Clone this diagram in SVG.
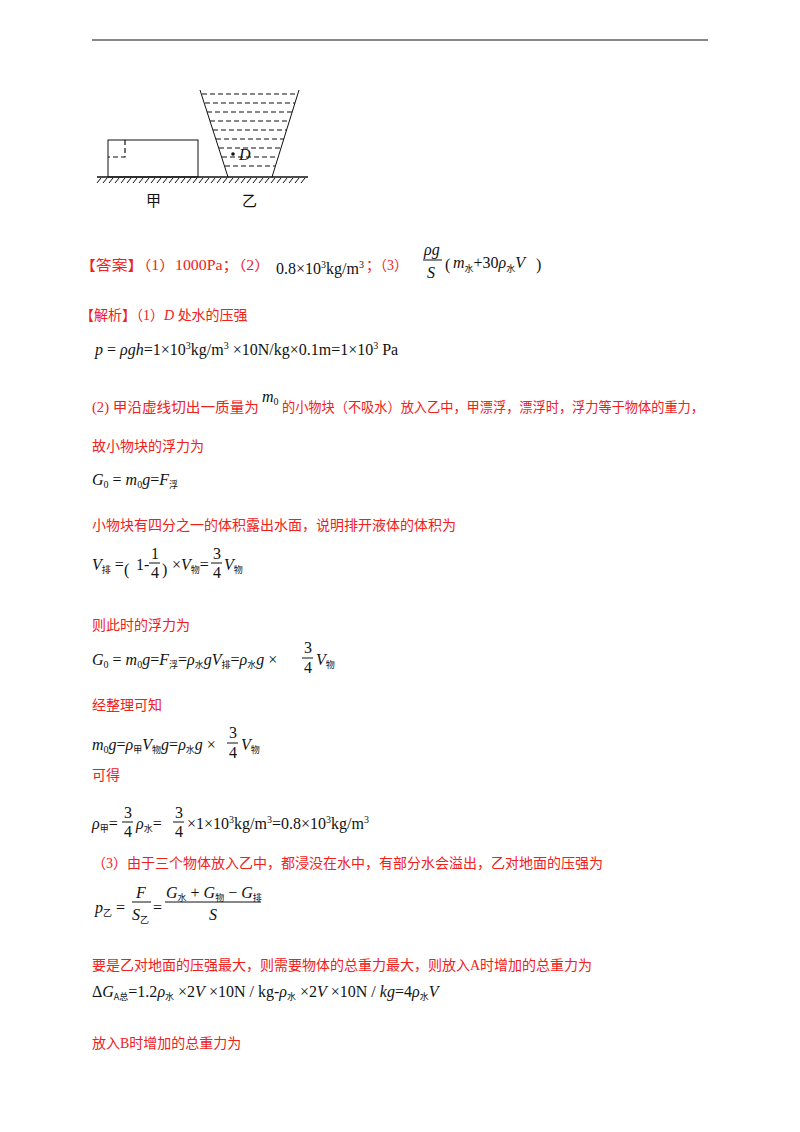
<svg xmlns="http://www.w3.org/2000/svg" width="800" height="1132" viewBox="0 0 800 1132">
<style>
.r{font-family:"Liberation Serif","Noto Sans CJK SC",serif;font-size:14px;fill:#f0201a}
.m{font-family:"Liberation Serif","Noto Sans CJK SC",serif;font-size:16px;fill:#111}
.i{font-style:italic}
.s{font-size:10px}
.c{font-family:"Noto Sans CJK SC",sans-serif;font-size:9px;fill:#111}
.l{stroke:#111;stroke-width:1;fill:none}
.d{stroke:#111;stroke-width:1.2;stroke-dasharray:5,3;fill:none}
</style>
<rect width="800" height="1132" fill="#fff"/>
<line x1="92" y1="40" x2="708" y2="40" stroke="#111" stroke-width="1.2"/>
<g id="figure">
<line x1="97" y1="177" x2="308" y2="177" stroke="#111" stroke-width="1.5"/>
<path d="M101 178l-4 5M107 178l-4 5M113 178l-4 5M119 178l-4 5M125 178l-4 5M131 178l-4 5M137 178l-4 5M143 178l-4 5M149 178l-4 5M155 178l-4 5M161 178l-4 5M167 178l-4 5M173 178l-4 5M179 178l-4 5M185 178l-4 5M191 178l-4 5M197 178l-4 5M203 178l-4 5M209 178l-4 5M215 178l-4 5M221 178l-4 5M227 178l-4 5M233 178l-4 5M239 178l-4 5M245 178l-4 5M251 178l-4 5M257 178l-4 5M263 178l-4 5M269 178l-4 5M275 178l-4 5M281 178l-4 5M287 178l-4 5M293 178l-4 5M299 178l-4 5M305 178l-4 5" class="l"/>
<rect x="108" y="140" width="90" height="37" class="l"/>
<path d="M125 140v17h-17" class="d"/>
<path d="M200 90L228 177M299 90L272 177" class="l"/>
<path d="M202 94h95M205 103h90M207 112h85M210 121h80M213 130h74M216 139h68M219 148h62M222 157h56M225 166h50" class="d"/>
<circle cx="233" cy="154" r="1.8" fill="#111"/>
<text x="239" y="160" class="m i" font-size="15">D</text>
<text x="146" y="206" font-family="Noto Sans CJK SC,sans-serif" font-size="15" fill="#111">甲</text>
<text x="242" y="206" font-family="Noto Sans CJK SC,sans-serif" font-size="15" fill="#111">乙</text>
</g>
<g id="text">
<text x="80" y="270" class="r" textLength="190" lengthAdjust="spacingAndGlyphs">【答案】（1）1000Pa；（2）</text>
<text x="276" y="274" class="m" font-size="14">0.8×10<tspan class="s" dy="-6">3</tspan><tspan dy="6">kg/m</tspan><tspan class="s" dy="-6">3</tspan></text>
<text x="366" y="270" class="r">；（3）</text>
<text x="424" y="255" class="m i">ρg</text>
<line x1="423" y1="260" x2="442" y2="260" stroke="#111"/>
<text x="427" y="278" class="m i">S</text>
<text x="445" y="270" class="m" font-size="20">(</text>
<text x="453" y="268" class="m"><tspan class="i">m</tspan><tspan class="c" dy="4">水</tspan><tspan dy="-4">+30</tspan><tspan class="i">ρ</tspan><tspan class="c" dy="4">水</tspan><tspan dy="-4" class="i">V</tspan></text>
<text x="536" y="270" class="m" font-size="20">)</text>

<text x="80" y="320" class="r">【解析】（1）<tspan font-style="italic">D</tspan> 处水的压强</text>
<text x="95" y="355" class="m"><tspan class="i">p</tspan> = <tspan class="i">ρgh</tspan>=1×10<tspan class="s" dy="-6">3</tspan><tspan dy="6">kg/m</tspan><tspan class="s" dy="-6">3</tspan><tspan dy="6"> ×10N/kg×0.1m=1×10</tspan><tspan class="s" dy="-6">3</tspan><tspan dy="6"> Pa</tspan></text>

<text x="92" y="412" class="r" textLength="167" lengthAdjust="spacingAndGlyphs">(2) 甲沿虚线切出一质量为</text>
<text x="262" y="402" class="m i">m<tspan class="s" font-style="normal" dy="3">0</tspan></text>
<text x="282" y="412" class="r" textLength="422" lengthAdjust="spacingAndGlyphs">的小物块（不吸水）放入乙中，甲漂浮，漂浮时，浮力等于物体的重力，</text>
<text x="92" y="451" class="r">故小物块的浮力为</text>
<text x="92" y="485" class="m" font-size="14"><tspan class="i">G</tspan><tspan class="s" dy="3">0</tspan><tspan dy="-3"> = </tspan><tspan class="i">m</tspan><tspan class="s" dy="3">0</tspan><tspan dy="-3" class="i">g</tspan>=<tspan class="i">F</tspan><tspan class="c" dy="3">浮</tspan></text>

<text x="92" y="530" class="r">小物块有四分之一的体积露出水面，说明排开液体的体积为</text>
<text x="92" y="570" class="m" font-size="14"><tspan class="i">V</tspan><tspan class="c" dy="3">排</tspan><tspan dy="-3"> =</tspan></text>
<text x="124" y="575" class="m" font-size="28">(</text>
<text x="136" y="570" class="m" font-size="14">1-</text>
<text x="151" y="559" class="m" font-size="14">1</text>
<line x1="149" y1="563" x2="160" y2="563" stroke="#111"/>
<text x="151" y="578" class="m" font-size="14">4</text>
<text x="162" y="575" class="m" font-size="28">)</text>
<text x="172" y="570" class="m" font-size="14">×<tspan class="i">V</tspan><tspan class="c" dy="3">物</tspan><tspan dy="-3">=</tspan></text>
<text x="213" y="559" class="m" font-size="14">3</text>
<line x1="211" y1="563" x2="222" y2="563" stroke="#111"/>
<text x="213" y="578" class="m" font-size="14">4</text>
<text x="224" y="570" class="m i" font-size="14">V<tspan class="c" font-style="normal" dy="3">物</tspan></text>

<text x="92" y="630" class="r">则此时的浮力为</text>
<text x="92" y="665" class="m" font-size="14"><tspan class="i">G</tspan><tspan class="s" dy="3">0</tspan><tspan dy="-3"> = </tspan><tspan class="i">m</tspan><tspan class="s" dy="3">0</tspan><tspan dy="-3" class="i">g</tspan>=<tspan class="i">F</tspan><tspan class="c" dy="3">浮</tspan><tspan dy="-3">=</tspan><tspan class="i">ρ</tspan><tspan class="c" dy="3">水</tspan><tspan dy="-3" class="i">gV</tspan><tspan class="c" dy="3">排</tspan><tspan dy="-3">=</tspan><tspan class="i">ρ</tspan><tspan class="c" dy="3">水</tspan><tspan dy="-3" class="i">g</tspan> ×</text>
<text x="304" y="653" class="m" font-size="14">3</text>
<line x1="302" y1="658" x2="313" y2="658" stroke="#111"/>
<text x="304" y="673" class="m" font-size="14">4</text>
<text x="316" y="665" class="m i" font-size="14">V<tspan class="c" font-style="normal" dy="3">物</tspan></text>

<text x="92" y="710" class="r">经整理可知</text>
<text x="92" y="750" class="m" font-size="14"><tspan class="i">m</tspan><tspan class="s" dy="3">0</tspan><tspan dy="-3" class="i">g</tspan>=<tspan class="i">ρ</tspan><tspan class="c" dy="3">甲</tspan><tspan dy="-3" class="i">V</tspan><tspan class="c" dy="3">物</tspan><tspan dy="-3" class="i">g</tspan>=<tspan class="i">ρ</tspan><tspan class="c" dy="3">水</tspan><tspan dy="-3" class="i">g</tspan> ×</text>
<text x="229" y="738" class="m" font-size="14">3</text>
<line x1="227" y1="743" x2="238" y2="743" stroke="#111"/>
<text x="229" y="758" class="m" font-size="14">4</text>
<text x="241" y="750" class="m i" font-size="14">V<tspan class="c" font-style="normal" dy="3">物</tspan></text>

<text x="92" y="780" class="r">可得</text>
<text x="92" y="829" class="m" font-size="14"><tspan class="i">ρ</tspan><tspan class="c" dy="3">甲</tspan><tspan dy="-3">=</tspan></text>
<text x="124" y="818" class="m" font-size="14">3</text>
<line x1="122" y1="822" x2="133" y2="822" stroke="#111"/>
<text x="124" y="837" class="m" font-size="14">4</text>
<text x="136" y="829" class="m" font-size="14"><tspan class="i">ρ</tspan><tspan class="c" dy="3">水</tspan><tspan dy="-3">=</tspan></text>
<text x="175" y="818" class="m" font-size="14">3</text>
<line x1="173" y1="822" x2="184" y2="822" stroke="#111"/>
<text x="175" y="837" class="m" font-size="14">4</text>
<text x="187" y="829" class="m" font-size="14">×1×10<tspan class="s" dy="-6">3</tspan><tspan dy="6">kg/m</tspan><tspan class="s" dy="-6">3</tspan><tspan dy="6">=0.8×10</tspan><tspan class="s" dy="-6">3</tspan><tspan dy="6">kg/m</tspan><tspan class="s" dy="-6">3</tspan></text>

<text x="92" y="868" class="r">（3）由于三个物体放入乙中，都浸没在水中，有部分水会溢出，乙对地面的压强为</text>
<text x="95" y="913" class="m" font-size="14"><tspan class="i">p</tspan><tspan class="c" dy="3">乙</tspan><tspan dy="-3"> =</tspan></text>
<text x="136" y="898" class="m i" font-size="14">F</text>
<line x1="132" y1="902" x2="151" y2="902" stroke="#111"/>
<text x="132" y="920" class="m i" font-size="14">S<tspan class="c" font-style="normal" dy="3">乙</tspan></text>
<text x="153" y="913" class="m" font-size="14">=</text>
<text x="166" y="898" class="m" font-size="14"><tspan class="i">G</tspan><tspan class="c" dy="3">水</tspan><tspan dy="-3"> + </tspan><tspan class="i">G</tspan><tspan class="c" dy="3">物</tspan><tspan dy="-3"> − </tspan><tspan class="i">G</tspan><tspan class="c" dy="3">排</tspan></text>
<line x1="165" y1="902" x2="261" y2="902" stroke="#111"/>
<text x="209" y="920" class="m i" font-size="14">S</text>

<text x="92" y="970" class="r">要是乙对地面的压强最大，则需要物体的总重力最大，则放入A时增加的总重力为</text>
<text x="92" y="997" class="m" font-size="14">Δ<tspan class="i">G</tspan><tspan class="c" dy="3">A总</tspan><tspan dy="-3">=1.2</tspan><tspan class="i">ρ</tspan><tspan class="c" dy="3">水</tspan><tspan dy="-3"> ×2</tspan><tspan class="i">V</tspan> ×10N / kg-<tspan class="i">ρ</tspan><tspan class="c" dy="3">水</tspan><tspan dy="-3"> ×2</tspan><tspan class="i">V</tspan> ×10N / <tspan class="i">kg</tspan>=4<tspan class="i">ρ</tspan><tspan class="c" dy="3">水</tspan><tspan dy="-3" class="i">V</tspan></text>

<text x="92" y="1048" class="r">放入B时增加的总重力为</text>
</g>
</svg>
